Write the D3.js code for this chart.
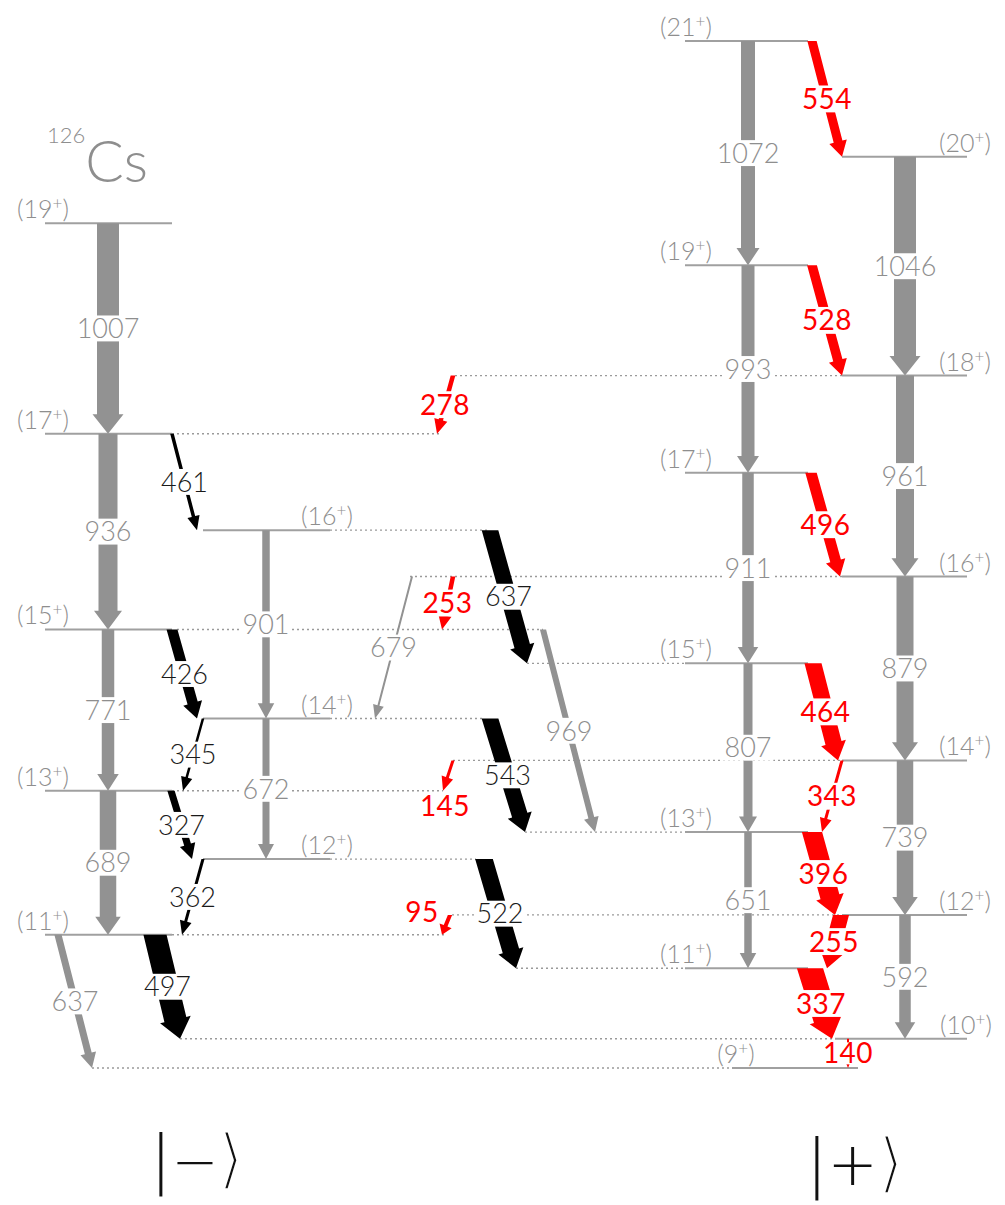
<!DOCTYPE html>
<html><head><meta charset="utf-8">
<script src="https://cdn.jsdelivr.net/npm/d3@7"></script>
<style>body{margin:0;background:#fff}</style>
</head><body>
<svg id="c" width="1005" height="1205"></svg>
<script>
// ---------------- DATA ----------------
// Levels: spin (J, parity +), excitation energy in keV relative to the (9+) level, column
const levelIds    = ["9","10","11a","12b","13a","14b","15a","16b","17a","19a","11c","12d","13c","14d","15c","16d","17c","18d","19c","20d","21c"];
const levelSpins  = ["9","10","11","12","13","14","15","16","17","19","11","12","13","14","15","16","17","18","19","20","21"];
const levelEnergy = [0,140,637,999,1326,1671,2097,2572,3033,4040,477,732,1128,1471,1935,2350,2846,3311,3839,4357,4911];
const levelCol    = ["X9","X10","A","B","A","B","A","B","A","A","C","D","C","D","C","D","C","D","C","D","C"];

// Transitions: gamma energy label, initial level, final level, relative intensity, kind
const gLabel = ["1007","936","771","689","637","461","426","345","327","362","497","901","672","679","969","637","543","522","278","253","145","95",
                "1072","993","911","807","651","1046","961","879","739","592","554","528","496","464","343","396","255","337","140"];
const gKey   = ["1007","936","771","689","637g","461","426","345","327","362","497","901","672","679","969","637b","543","522","278","253","145","95",
                "1072","993","911","807","651","1046","961","879","739","592","554","528","496","464","343","396","255","337","140"];
const gFrom  = ["19a","17a","15a","13a","11a","17a","15a","14b","13a","12b","11a","16b","14b","16d","15a","16b","14b","12b","18d","16d","14d","12d",
                "21c","19c","17c","15c","13c","20d","18d","16d","14d","12d","21c","19c","17c","15c","14d","13c","12d","11c","10"];
const gTo    = ["17a","15a","13a","11a","9","16b","14b","13a","12b","11a","10","14b","12b","14b","13c","15c","13c","11c","17a","15a","13a","11a",
                "19c","17c","15c","13c","11c","18d","16d","14d","12d","10","20d","18d","16d","14d","13c","12d","11c","10","9"];
const gInt   = [88,76,50,66,28,14,42,10,28,12,90,30,28,8,24,64,64,68,18,18,12,16,
                56,52,46,36,30,88,72,68,66,46,36,38,44,66,12,78,62,100,8];
const gKind  = ["g","g","g","g","g","b","b","b","b","b","b","g","g","g","g","b","b","b","r","r","r","r",
                "g","g","g","g","g","g","g","g","g","g","r","r","r","r","r","r","r","r","r"];
const bandNames = ["−", "+"];

// ---------------- LAYOUT ----------------
const W = 1005, H = 1205;
const colExtent = {A:[45,172], B:[203,330], C:[685,808], D:[842,967], X9:[732,858], X10:[835,967]};
const colLabelSide = {A:"l", B:"r", C:"l", D:"r", X9:"l", X10:"r"};
const colLabelDx = {A:-2, B:-3, C:1, D:-2, X9:4, X10:-1};
const lane = {
  "1007":[108,108],"936":[108,108],"771":[108,108],"689":[108,108],"637g":[58,92],
  "461":[172,197],"426":[172,197],"345":[203,183],"327":[171,192],"362":[203,182],"497":[155,180],
  "901":[266,266],"672":[266,266],"679":[412,375],"969":[543,595],
  "637b":[490,527],"543":[490,525],"522":[484,516],
  "278":[453,437],"253":[453,442],"145":[453,443],"95":[450,442],
  "1072":[748,748],"993":[748,748],"911":[748,748],"807":[748,748],"651":[748,748],
  "1046":[905,905],"961":[905,905],"879":[905,905],"739":[905,905],"592":[905,905],
  "554":[812,842],"528":[812,842],"496":[811,840],"464":[813,838],"343":[842,822],
  "396":[812,835],"255":[841,827],"337":[810,832],"140":[848,848]
};
const labelAt = {"145":[445,806,false],"95":[422,912,false]};
const dotted = {
  "18d":[455,842],"17a":[172,440],"16b":[330,488],"16d":[410,842],"15a":[177,543],"15c":[527,685],
  "14b":[330,483],"14d":[453,842],"13a":[172,443],"13c":[525,685],"12b":[330,476],"12d":[452,842],
  "11a":[172,445],"11c":[516,685],"10":[180,835],"9":[92,732]
};
const kindColor = {g:"#929292", b:"#000000", r:"#ff0000"};
const textColor = {g:"#8e8e8e", b:"#1a1a1a", r:"#ff0000"};
const FONT = "Lato, 'Open Sans', sans-serif";

// ---------------- SCALES ----------------
const y = d3.scaleLinear().domain([0, 4911]).range([1068, 41]);
const wScale = d3.scaleLinear().domain([0, 100]).range([0, 25]);

const svg = d3.select("#c");
svg.append("rect").attr("width", W).attr("height", H).attr("fill", "#fff");

const levels = levelIds.map((id, i) => ({id, spin: levelSpins[i], e: levelEnergy[i], col: levelCol[i]}));
const lev = Object.fromEntries(levels.map(l => [l.id, l]));
const trans = gLabel.map((lab, i) => ({lab, key: gKey[i], from: lev[gFrom[i]], to: lev[gTo[i]], inten: gInt[i], kind: gKind[i]}));

// dotted extensions
const gDot = svg.append("g");
Object.entries(dotted).forEach(([id, [x0, x1]]) => {
  gDot.append("line").attr("x1", x0).attr("x2", x1)
    .attr("y1", y(lev[id].e)).attr("y2", y(lev[id].e))
    .attr("stroke", "#9a9a9a").attr("stroke-width", 1.4).attr("stroke-dasharray", "2,3");
});

// level lines
svg.append("g").selectAll("line").data(levels).join("line")
  .attr("x1", d => colExtent[d.col][0]).attr("x2", d => colExtent[d.col][1])
  .attr("y1", d => y(d.e)).attr("y2", d => y(d.e))
  .attr("stroke", "#a0a0a0").attr("stroke-width", 2);

// arrows
function arrowPts(x0, y0, x1, y1, w) {
  const dx = x1 - x0, dy = y1 - y0, len = Math.hypot(dx, dy);
  const ux = dx / len, uy = dy / len;
  const nx = uy, ny = -ux;
  const hw = w + 9, hl = Math.min(13 + w * 0.3, len * 0.45);
  const bx = x1 - ux * hl, by = y1 - uy * hl;
  const ht = (w / 2) * len / Math.abs(dy);
  return [[x0 - ht, y0], [x0 + ht, y0],
          [bx + nx * w / 2, by + ny * w / 2], [bx + nx * hw / 2, by + ny * hw / 2],
          [x1, y1],
          [bx - nx * hw / 2, by - ny * hw / 2], [bx - nx * w / 2, by - ny * w / 2]];
}
svg.append("g").selectAll("polygon").data(trans).join("polygon")
  .attr("points", d => {
    const [x0, x1] = lane[d.key];
    return arrowPts(x0, y(d.from.e), x1, y(d.to.e), wScale(d.inten)).map(p => p.join(",")).join(" ");
  })
  .attr("fill", d => kindColor[d.kind]);

// transition labels
const gLab = svg.append("g");
trans.forEach(d => {
  const [x0, x1] = lane[d.key];
  let cx = (x0 + x1) / 2, cy = (y(d.from.e) + y(d.to.e)) / 2, bg = true;
  if (labelAt[d.key]) { [cx, cy, bg] = labelAt[d.key]; }
  const fs = d.kind === "r" ? 28 : 27;
  const t = gLab.append("text").attr("x", cx).attr("y", cy + fs * 0.36)
    .attr("text-anchor", "middle").attr("font-family", FONT)
    .attr("font-size", fs).attr("font-weight", d.kind === "r" ? 400 : 300)
    .attr("letter-spacing", d.kind === "r" ? 0.5 : 0)
    .attr("fill", textColor[d.kind]).text(d.lab);
  if (bg) {
    const bb = t.node().getBBox();
    const hh = d.key === "140" ? 11 : fs * 0.48;
    gLab.insert("rect", () => t.node()).attr("x", bb.x - 2).attr("width", bb.width + 4)
      .attr("y", cy - hh).attr("height", hh * 2).attr("fill", "#fff");
  }
});

// level labels
const gLv = svg.append("g");
levels.forEach(d => {
  const ext = colExtent[d.col];
  const x = (colLabelSide[d.col] === "l" ? ext[0] : ext[1]) + colLabelDx[d.col];
  const t = gLv.append("text").attr("x", x).attr("y", y(d.e) - 5)
    .attr("text-anchor", "middle").attr("font-family", FONT).attr("font-size", 25)
    .attr("font-weight", 300).attr("fill", "#8e8e8e");
  t.append("tspan").text("(" + d.spin);
  t.append("tspan").attr("font-size", 17).attr("dy", -9).text("+");
  t.append("tspan").attr("dy", 9).text(")");
});

// title
const title = svg.append("text").attr("x", 47).attr("y", 182).attr("font-family", FONT)
  .attr("fill", "#8e8e8e").attr("font-weight", 300);
title.append("tspan").attr("font-size", 22).attr("dy", -39).text("126");
title.append("tspan").attr("font-size", 57).attr("dy", 39).text("Cs");

// band labels (ket notation)
const ketPos = [[150, 1181, 56], [806, 1185, 60]];
bandNames.forEach((s, i) => {
  const [x, yb, fsSym] = ketPos[i];
  const t = svg.append("text").attr("x", x).attr("y", yb)
    .attr("font-family", "'DejaVu Sans', sans-serif").attr("font-weight", 200)
    .attr("font-size", 64).attr("fill", "#111");
  t.append("tspan").text("|");
  t.append("tspan").attr("font-size", fsSym).text(s);
  t.append("tspan").attr("font-size", 66).attr("stroke", "#fff").attr("stroke-width", 3).text("⟩");
});
</script>
</body></html>
